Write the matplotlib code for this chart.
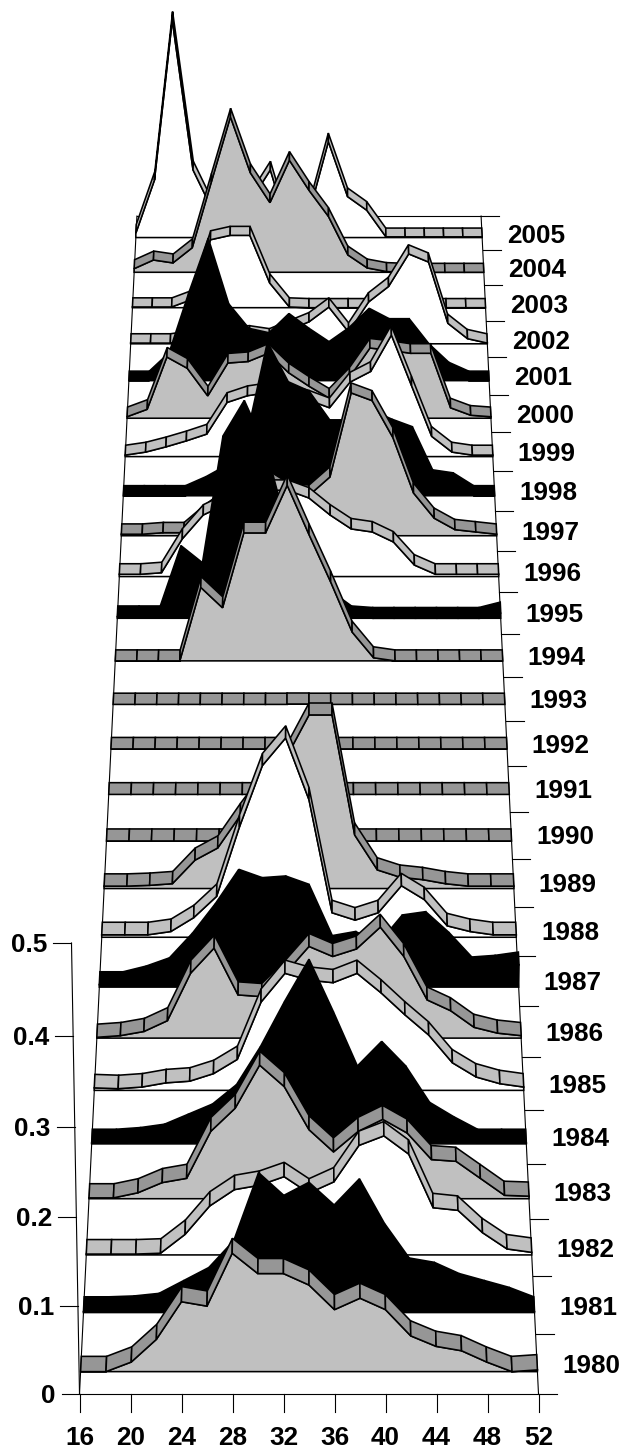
import matplotlib
matplotlib.use('Agg')
from matplotlib import pyplot as plt

plt.rcParams['font.family'] = ['Liberation Sans', 'DejaVu Sans']

weeks = list(range(16, 54, 2))
week_ticks = list(range(16, 56, 4))
value_ticks = [0, 0.1, 0.2, 0.3, 0.4, 0.5]
years = list(range(1980, 2006))
kinds = ['g', 'k', 'w', 'g', 'k', 'w', 'g', 'k', 'w', 'g', 'g', 'g', 'g', 'g', 'g', 'k', 'w', 'g', 'k', 'w', 'g', 'k', 'w', 'w', 'g', 'w']

v1980 = [0, 0, .011, .037, .080, .075, .135, .112, .112, .099, .071, .084, .071, .041, .029, .024, .011, 0, .002]
v1981 = [.001, .001, .002, .005, .020, .035, .066, .144, .118, .133, .107, .137, .086, .046, .041, .028, .020, .012, .001]
v1982 = [.001, .001, .001, .002, .024, .057, .076, .081, .091, .072, .085, .127, .138, .117, .055, .052, .026, .007, .003]
v1983 = [.001, .001, .007, .019, .024, .079, .106, .156, .131, .081, .055, .079, .093, .077, .046, .044, .024, .004, .003]
v1984 = [.001, .001, .003, .007, .019, .031, .054, .099, .152, .201, .140, .076, .105, .076, .033, .016, .001, .001, .001]
v1985 = [.003, .002, .004, .009, .011, .020, .037, .105, .139, .131, .128, .139, .116, .090, .066, .033, .016, .008, .004]
v1986 = [.001, .003, .008, .021, .078, .108, .052, .050, .078, .110, .098, .107, .133, .098, .046, .033, .013, .006, .003]
v1987 = [.003, .003, .010, .020, .050, .086, .127, .117, .119, .109, .047, .052, .038, .072, .076, .051, .021, .023, .027]
v1988 = [.003, .003, .003, .007, .024, .050, .134, .208, .241, .167, .030, .021, .030, .063, .046, .014, .007, .003, .003]
v1989 = [.003, .003, .004, .006, .035, .050, .090, .127, .160, .212, .212, .066, .023, .014, .011, .006, .003, .003, .003]
v1990 = [0] * 19
v1991 = [0] * 19
v1992 = [0] * 19
v1993 = [0] * 19
v1994 = [0, 0, 0, 0, .094, .068, .163, .163, .223, .161, .101, .037, .004, 0, 0, 0, 0, 0, 0]
v1995 = [.002, .002, .002, .080, .058, .220, .265, .204, .100, .048, .022, .002, 0, 0, 0, 0, 0, 0, .007]
v1996 = [.003, .003, .005, .049, .080, .093, .106, .112, .112, .102, .080, .062, .058, .045, .015, .003, .003, .003, .003]
v1997 = [.002, .002, .004, .004, .027, .047, .060, .073, .056, .053, .077, .186, .176, .128, .056, .023, .008, .005, .002]
v1998 = [0, 0, 0, 0, .012, .027, .067, .189, .137, .125, .087, .087, .100, .088, .078, .021, .017, 0, 0]
v1999 = [.002, .006, .013, .021, .030, .072, .081, .085, .082, .075, .065, .099, .113, .161, .094, .027, .006, .002, .002]
v2000 = [.002, .012, .082, .067, .030, .074, .076, .087, .061, .043, .027, .055, .094, .091, .087, .087, .014, .004, .002]
v2001 = [0, 0, .025, .105, .179, .091, .058, .052, .078, .058, .040, .059, .085, .071, .071, .037, .012, 0, 0]
v2002 = [.001, .001, .001, .005, .012, .012, .012, .008, .019, .030, .050, .016, .057, .078, .122, .111, .028, .007, .001]
v2003 = [.001, .001, .001, .011, .093, .099, .099, .034, .001, 0, 0, 0, 0, 0, 0, 0, 0, 0, 0]
v2004 = [.005, .017, .013, .034, .124, .213, .137, .096, .154, .113, .077, .024, .006, .001, 0, 0, 0, 0, 0]
v2005 = [.006, .080, .299, .094, .038, .018, .052, .094, .004, .034, .133, .057, .038, .001, .001, .001, .001, .001, .001]
series = [v1980, v1981, v1982, v1983, v1984, v1985, v1986, v1987, v1988, v1989, v1990, v1991, v1992,
          v1993, v1994, v1995, v1996, v1997, v1998, v1999, v2000, v2001, v2002, v2003, v2004, v2005]

# camera of the 3d view, fitted on the picture
K = 0.01283
M = 0.0674
H = 1189.0
YV = -3315.0
CX = 309.0
FONT = 18.8


def proj(week, z, v=0.0):
    w = 1 + K * z - M * v
    x0 = 79.5 + (week - 16) * 12.75
    return CX + (x0 - CX) / w, YV + (4709 - H * v) / w


def seg(a, b):
    ax.plot([a[0], b[0]], [a[1], b[1]], color='k', lw=0.8)


fig = plt.figure(figsize=(6.23, 14.53), dpi=100)
ax = fig.add_axes([0, 0, 1, 1])
ax.set_xlim(0, 623)
ax.set_ylim(1453, 0)
ax.axis('off')

# walls and floor
seg(proj(16, 0), proj(16, 26))
seg(proj(52, 0), proj(52, 26))
seg(proj(16, 0), proj(16, 0, 0.5))
seg(proj(16, 26), proj(52, 26))
seg(proj(16, 0), proj(52, 0))
for n in range(27):
    a = proj(52, n)
    seg(a, (a[0] + 18, a[1]))
for t in value_ticks:
    a = proj(16, 0, t)
    seg((a[0] - 18, a[1]), a)
    ax.text(a[0] - 24, a[1] + 2, '%g' % t, ha='right', va='center', fontsize=FONT, fontweight='bold')
for wk in week_ticks:
    a = proj(wk, 0)
    seg(a, (a[0], a[1] + 18))
    ax.text(a[0], a[1] + 44, str(wk), ha='center', va='center', fontsize=FONT, fontweight='bold')
for n, yr in enumerate(years):
    a = proj(52, n + 0.5)
    ax.text(a[0] + 25, a[1] + 2.5, str(yr), ha='left', va='center', fontsize=FONT, fontweight='bold')

# ribbons, back to front
fills = {'g': ('#C0C0C0', '#969696'), 'k': ('k', 'k'), 'w': ('w', '#C0C0C0')}
zo = 3
for n in range(25, -1, -1):
    face, band = fills[kinds[n]]
    z1 = n + 0.372
    z2 = n + 0.628
    front = [proj(w, z1, v) for w, v in zip(weeks, series[n])]
    back = [proj(w, z2, v) for w, v in zip(weeks, series[n])]
    poly = [proj(16, z1)] + front + [proj(52, z1)]
    ax.fill(*zip(*poly), facecolor=face, edgecolor='k', lw=1.15, zorder=zo)
    zo += 1
    for i in range(18):
        cell = [front[i], front[i + 1], back[i + 1], back[i]]
        ax.fill(*zip(*cell), facecolor=band, edgecolor='k', lw=1.15, zorder=zo)
    zo += 1

fig.savefig('out.png', dpi=100)
